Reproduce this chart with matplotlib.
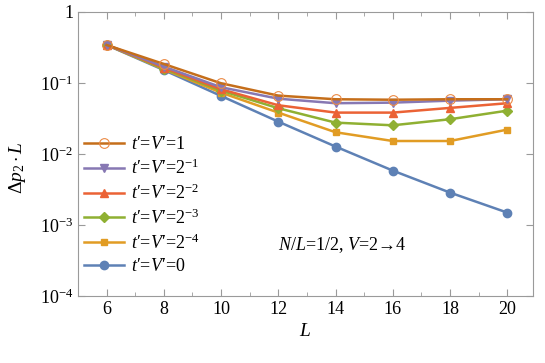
import matplotlib
matplotlib.use("Agg")
import matplotlib.pyplot as plt
from matplotlib.ticker import FixedLocator, FixedFormatter, MultipleLocator

plt.rcParams['font.family'] = ['Liberation Serif', 'DejaVu Serif']
plt.rcParams['mathtext.fontset'] = 'custom'
plt.rcParams['mathtext.rm'] = 'Liberation Serif'
plt.rcParams['mathtext.it'] = 'Liberation Serif:italic'

L = [6, 8, 10, 12, 14, 16, 18, 20]
labels = [r"$t$′=$V$′=1", r"$t$′=$V$′=$2^{-1}$", r"$t$′=$V$′=$2^{-2}$",
          r"$t$′=$V$′=$2^{-3}$", r"$t$′=$V$′=$2^{-4}$", r"$t$′=$V$′=0"]
dp_1 = [0.343, 0.185, 0.099, 0.0663, 0.0589, 0.058, 0.0589, 0.0589]
dp_2m1 = [0.345, 0.170, 0.087, 0.060, 0.0518, 0.0528, 0.0563, 0.0589]
dp_2m2 = [0.345, 0.164, 0.0815, 0.0485, 0.0382, 0.0382, 0.0445, 0.0518]
dp_2m3 = [0.345, 0.159, 0.078, 0.044, 0.0276, 0.0253, 0.0308, 0.0407]
dp_2m4 = [0.345, 0.156, 0.073, 0.0382, 0.0202, 0.0152, 0.0152, 0.022]
dp_0 = [0.343, 0.152, 0.0656, 0.0285, 0.0127, 0.00582, 0.00285, 0.00149]

series = [dp_1, dp_2m1, dp_2m2, dp_2m3, dp_2m4, dp_0]
colors = ['#C56E1A', '#8778B3', '#EB6235', '#8FB032', '#E19C24', '#5E81B5']
markers = ['o', 'v', '^', 'D', 's', 'o']
sizes = [7, 6, 6, 5, 5, 6]

fig = plt.figure(figsize=(5.45, 3.63), dpi=100)
ax = fig.add_axes([0.143, 0.185, 0.835, 0.782])

handles = [None] * 6
for i in reversed(range(6)):
    if i == 0:
        h, = ax.plot(L, series[i], color=colors[i], lw=1.8, marker='o', ms=sizes[i],
                     mfc='none', mec='#EB8A45', mew=0.8, label=labels[i])
    else:
        h, = ax.plot(L, series[i], color=colors[i], lw=1.8, marker=markers[i],
                     ms=sizes[i], mec=colors[i], label=labels[i])
    handles[i] = h

ax.set_yscale('log')
ax.set_ylim(1e-4, 1)
ax.set_xlim(5, 20.9)
ax.yaxis.set_major_locator(FixedLocator([1e-4, 1e-3, 1e-2, 1e-1, 1]))
ax.yaxis.set_major_formatter(FixedFormatter([r'$10^{-4}$', r'$10^{-3}$', r'$10^{-2}$',
                                             r'$10^{-1}$', '1']))
ax.yaxis.set_minor_locator(FixedLocator([]))
ax.xaxis.set_major_locator(MultipleLocator(2))
ax.xaxis.set_minor_locator(MultipleLocator(1))

for s in ax.spines.values():
    s.set_color('#9a9a9a')
ax.tick_params(which='both', direction='in', colors='#9a9a9a', labelcolor='black',
               top=True, right=True, labelsize=13)
ax.tick_params(which='major', length=5)
ax.tick_params(which='minor', length=3)

ax.set_xlabel(r'$L$', fontsize=14)
ax.set_ylabel(r'$\Delta p_2\cdot L$', fontsize=14)
ax.yaxis.set_label_coords(-0.11, 0.45)

ax.legend(handles=handles, loc='upper left', bbox_to_anchor=(-0.01, 0.60),
          frameon=False, fontsize=13, handlelength=2.2, handletextpad=0.4,
          labelspacing=0.3, borderaxespad=0.2)

ax.text(0.44, 0.16, r'$N/L$=1/2, $V$=2→4', transform=ax.transAxes,
        fontsize=13)

fig.savefig('out.png', dpi=100)
